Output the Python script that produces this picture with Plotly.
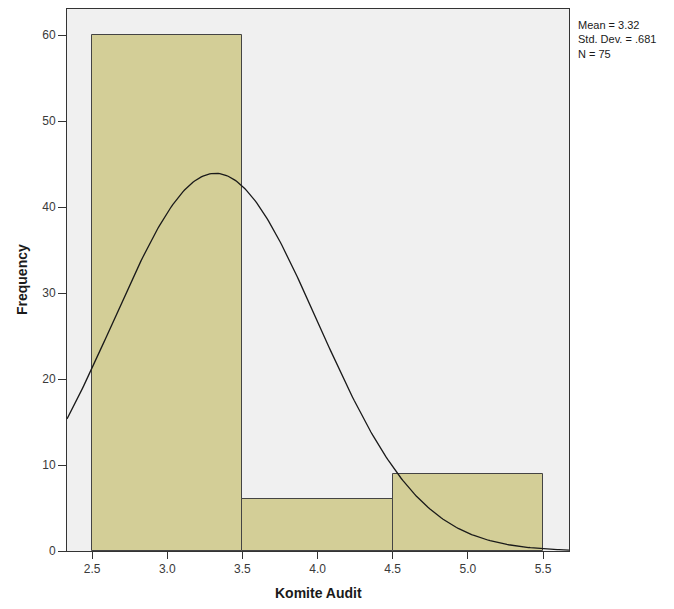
"""Histogram of Komite Audit with a fitted normal curve (SPSS style)."""

import numpy as np
import plotly.graph_objects as go

# Histogram bins and counts
bin_starts = [2.5, 3.5, 4.5]
bin_width = 1.0
counts = [60, 6, 9]

# Summary statistics shown in the legend box
mean = 3.32
std_dev = 0.681
n_obs = 75

x_ticks = [2.5, 3.0, 3.5, 4.0, 4.5, 5.0, 5.5]
y_ticks = [0, 10, 20, 30, 40, 50, 60]

fig = go.Figure()

fig.add_trace(go.Bar(
    x=[b + bin_width / 2 for b in bin_starts],
    y=counts,
    width=bin_width,
    marker={"color": "#d3ce97", "line": {"color": "#444444", "width": 1}},
    showlegend=False,
    hoverinfo="x+y",
))

# Normal curve scaled to the histogram
xs = np.linspace(2.333, 5.673, 300)
ys = n_obs * bin_width / (std_dev * np.sqrt(2 * np.pi)) * np.exp(-0.5 * ((xs - mean) / std_dev) ** 2)
fig.add_trace(go.Scatter(
    x=xs, y=ys,
    mode="lines",
    line={"color": "#1a1a1a", "width": 1.3},
    showlegend=False,
))

axis_font = {"family": "Arial, Liberation Sans", "size": 12, "color": "#3a3a3a"}
title_font = {"family": "Arial, Liberation Sans", "size": 14, "color": "#1a1a1a"}

# page has an 8px body margin, so the figure is a bit smaller than the window
fig.update_layout(
    width=658,
    height=593,
    margin={"l": 59, "r": 97, "t": 1, "b": 50, "autoexpand": False},
    paper_bgcolor="white",
    plot_bgcolor="#f0f0f0",
    bargap=0,
    xaxis={
        "range": [2.333, 5.673],
        "tickvals": x_ticks,
        "ticktext": [f"{t:.1f}" for t in x_ticks],
        "ticks": "outside",
        "ticklen": 7,
        "tickcolor": "#333333",
        "tickfont": axis_font,
        "showgrid": False,
        "zeroline": False,
        "showline": True,
        "linecolor": "#333333",
        "mirror": True,
        "automargin": False,
    },
    yaxis={
        "range": [0, 63.05],
        "tickvals": y_ticks,
        "ticks": "outside",
        "ticklen": 8,
        "tickcolor": "#333333",
        "tickfont": axis_font,
        "showgrid": False,
        "zeroline": False,
        "showline": True,
        "linecolor": "#333333",
        "mirror": True,
        "automargin": False,
    },
)

# Axis titles placed as annotations so their position can be set exactly
fig.add_annotation(
    text="<b>Komite Audit</b>", xref="paper", yref="paper", x=0.5, y=-0.077,
    xanchor="center", yanchor="middle", showarrow=False, font=title_font,
)
fig.add_annotation(
    text="<b>Frequency</b>", xref="paper", yref="paper", x=-0.0896, y=0.5,
    xanchor="center", yanchor="middle", textangle=-90, showarrow=False, font=title_font,
)

fig.add_annotation(
    text=f"Mean = {mean:.2f}<br>Std. Dev. = {str(std_dev)[1:]}<br>N = {n_obs}",
    xref="paper", yref="paper", x=1.013, y=0.985,
    xanchor="left", yanchor="top", align="left", showarrow=False,
    font={"family": "Arial, Liberation Sans", "size": 11, "color": "#1a1a1a"},
)

fig.write_html("out.html")
